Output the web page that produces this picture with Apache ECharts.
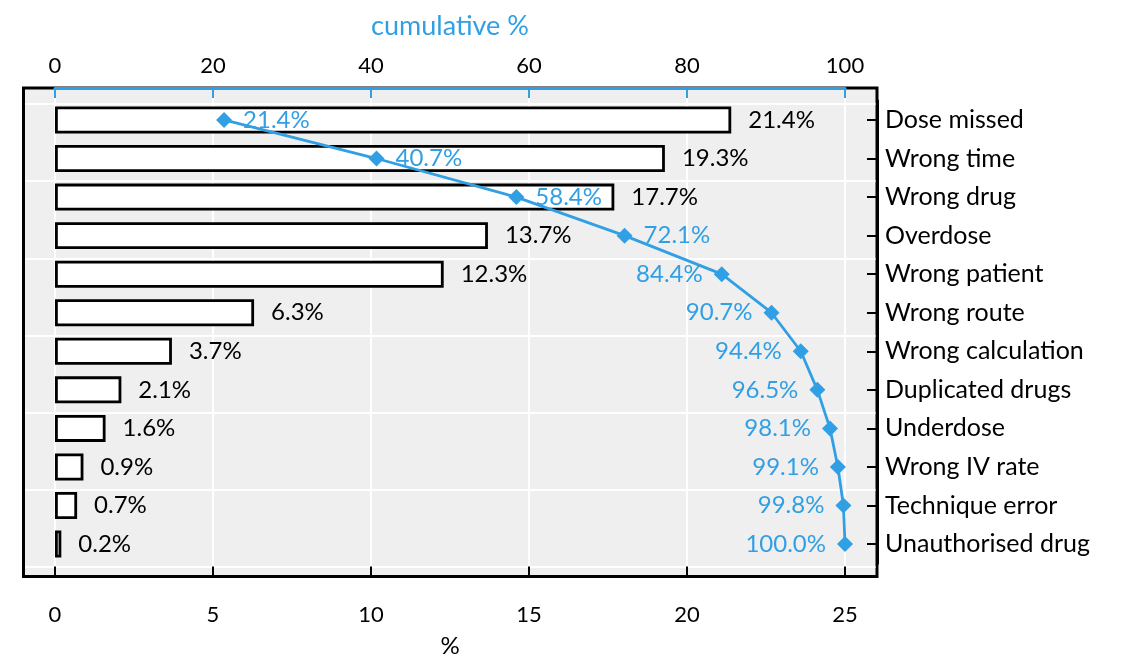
<!DOCTYPE html>
<html>
<head>
<meta charset="utf-8">
<script src="https://cdn.jsdelivr.net/npm/echarts@6/dist/echarts.min.js"></script>
<style>html,body{margin:0;padding:0;background:#fff;}#c{width:1140px;height:665px;}</style>
</head>
<body>
<div id="c"></div>
<script>
const categories = ['Dose missed','Wrong time','Wrong drug','Overdose','Wrong patient','Wrong route','Wrong calculation','Duplicated drugs','Underdose','Wrong IV rate','Technique error','Unauthorised drug'];
const pctValues = [21.4, 19.3, 17.7, 13.7, 12.3, 6.3, 3.7, 2.1, 1.6, 0.9, 0.7, 0.2];
const cumValues = [21.4, 40.7, 58.4, 72.1, 84.4, 90.7, 94.4, 96.5, 98.1, 99.1, 99.8, 100.0];
const bottomTicks = [0, 5, 10, 15, 20, 25];
const topTicks = [0, 20, 40, 60, 80, 100];

const BLUE = '#319fe4';
const FONT = 'Lato';
const chart = echarts.init(document.getElementById('c'), null, {renderer: 'canvas'});

const hidden = {show: false};
const gbase = {show: false, containLabel: false, outerBoundsMode: 'none'};
chart.setOption({
  animation: false,
  textStyle: {fontFamily: FONT},
  grid: [
    Object.assign({}, gbase, {left: 23.5, right: 263, top: 88, bottom: 88.5, show: true, backgroundColor: '#efefef', borderColor: '#000', borderWidth: 3}),
    Object.assign({}, gbase, {left: 25, right: 264.5, top: 104, bottom: 98}),
    Object.assign({}, gbase, {left: 55, right: 295, top: 89.5, bottom: 90}),
    Object.assign({}, gbase, {left: 55, right: 295, top: 100.7, bottom: 101.7})
  ],
  xAxis: [
    {gridIndex: 0, type: 'value', show: false},
    {gridIndex: 1, type: 'value', show: false, min: 0, max: 1},
    {gridIndex: 2, type: 'value', min: bottomTicks[0], max: bottomTicks[bottomTicks.length-1], interval: 5,
     axisLine: {show: false, onZero: false}, axisTick: hidden, axisLabel: hidden,
     splitLine: {show: true, lineStyle: {color: '#fff', width: 2}}},
    {gridIndex: 3, type: 'value', position: 'bottom', offset: 13.3,
     min: bottomTicks[0], max: bottomTicks[bottomTicks.length-1], interval: 5,
     axisLine: {show: true, onZero: false, lineStyle: {color: '#000', width: 3}},
     axisTick: {show: true, inside: true, length: 10, lineStyle: {color: '#000', width: 2}},
     axisLabel: {show: true, margin: 27, color: '#000', fontSize: 22, fontFamily: FONT},
     splitLine: hidden,
     name: '%', nameLocation: 'middle', nameGap: 58,
     nameTextStyle: {color: '#000', fontSize: 24, fontFamily: FONT}},
    {gridIndex: 3, type: 'value', position: 'top', offset: 12.7,
     min: topTicks[0], max: topTicks[topTicks.length-1], interval: 20,
     axisLine: {show: true, onZero: false, lineStyle: {color: BLUE, width: 3}},
     axisTick: {show: true, inside: true, length: 10, lineStyle: {color: BLUE, width: 2}},
     axisLabel: {show: true, margin: 11, color: '#000', fontSize: 22, fontFamily: FONT},
     splitLine: hidden,
     name: 'cumulative %', nameLocation: 'middle', nameGap: 48,
     nameTextStyle: {color: BLUE, fontSize: 27, fontFamily: FONT}}
  ],
  yAxis: [
    {gridIndex: 0, type: 'value', show: false},
    {gridIndex: 1, type: 'value', min: 0, max: 6, interval: 1,
     axisLine: {show: false, onZero: false}, axisTick: hidden, axisLabel: hidden,
     splitLine: {show: true, lineStyle: {color: '#fff', width: 2}}},
    {gridIndex: 2, type: 'value', show: false},
    {gridIndex: 3, type: 'category', data: categories, inverse: true, position: 'right', offset: 32,
     axisLine: {show: true, onZero: false, lineStyle: {color: '#000', width: 3}},
     axisTick: {show: true, inside: true, length: 10, alignWithLabel: true, lineStyle: {color: '#000', width: 2}},
     axisLabel: {show: true, margin: 8, color: '#000', fontSize: 25, fontFamily: FONT},
     splitLine: hidden}
  ],
  series: [
    {type: 'bar', xAxisIndex: 3, yAxisIndex: 3, data: pctValues, barWidth: 27, z: 3,
     itemStyle: {color: '#fff', borderColor: '#000', borderWidth: 2.8},
     label: {show: true, position: 'right', distance: 17, color: '#000', fontSize: 24, fontFamily: FONT,
             formatter: p => p.value.toFixed(1) + '%'}},
    {type: 'line', xAxisIndex: 4, yAxisIndex: 3, z: 5,
     data: cumValues.map((v, i) => ({value: v, label: {position: i < 4 ? 'right' : 'left'}})),
     symbol: 'diamond', symbolSize: 16,
     lineStyle: {color: BLUE, width: 2.8}, itemStyle: {color: BLUE},
     label: {show: true, distance: 11, color: BLUE, fontSize: 24, fontFamily: FONT,
             formatter: p => p.value.toFixed(1) + '%'}}
  ]
});
</script>
</body>
</html>
